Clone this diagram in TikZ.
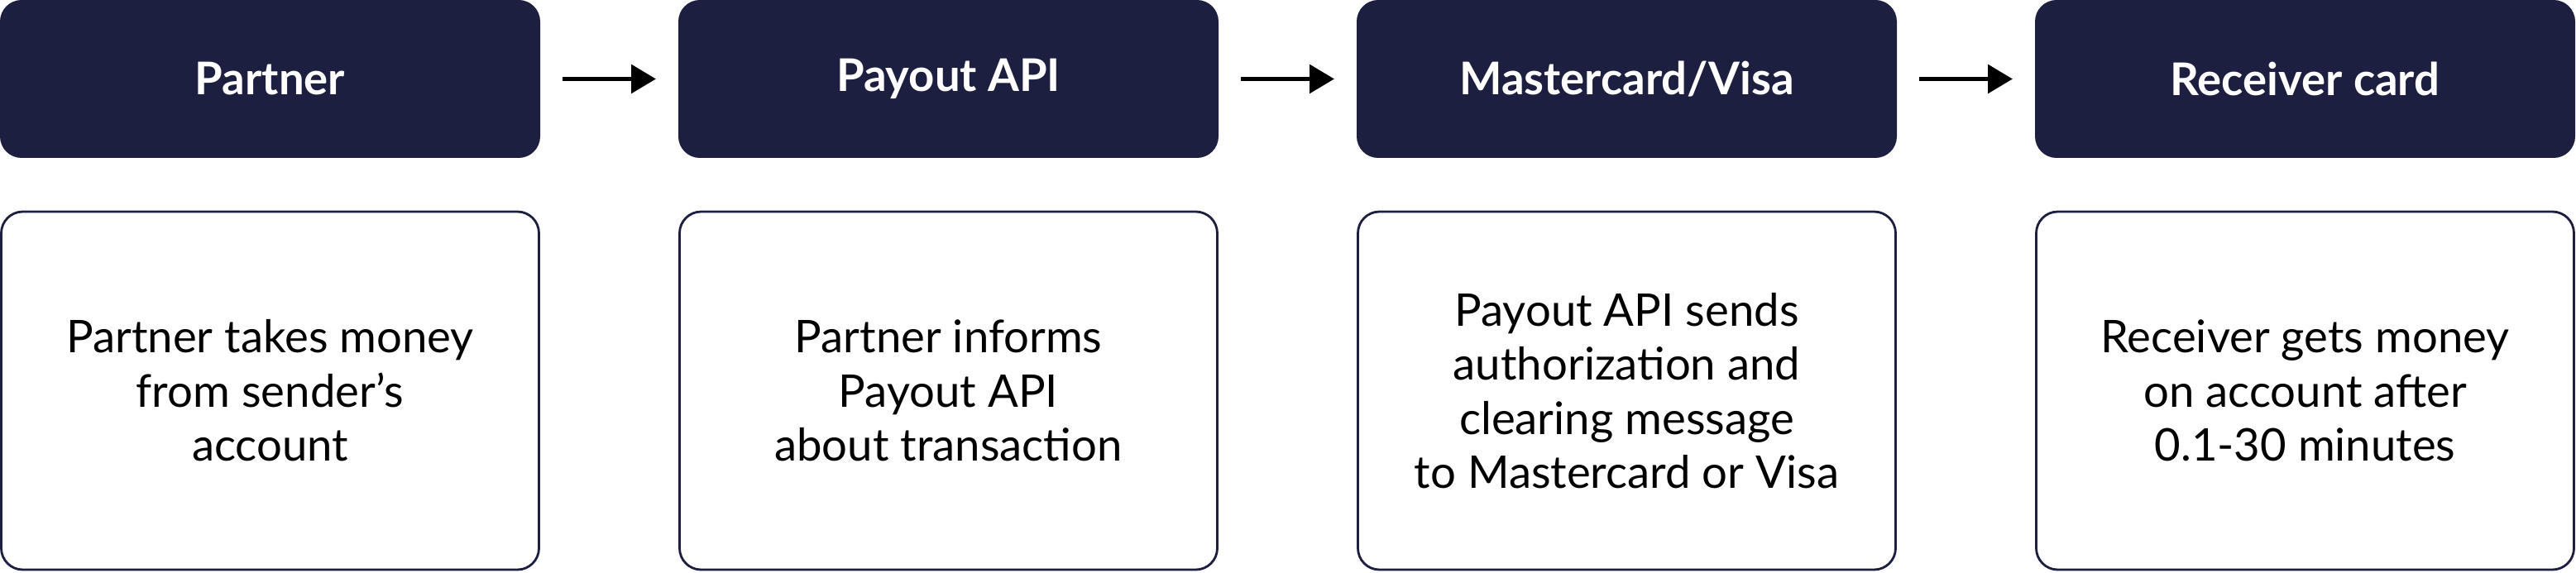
\documentclass[tikz,border=0pt]{standalone}
\usepackage{fontspec}
\setmainfont{Lato}
\usepackage{tikz}
\usetikzlibrary{positioning, arrows.meta}

\definecolor{navy}{RGB}{29,31,64}

\begin{document}
\begin{tikzpicture}[
    every node/.style={font=\fontsize{15.5}{18.6}\selectfont, outer sep=0pt},
    head/.style={fill=navy, rounded corners=0.26cm, text=white,
        minimum width=6.53cm, minimum height=1.91cm, font=\fontsize{15.5}{18.6}\selectfont\bfseries},
    info/.style={draw=navy, line width=0.8pt, rounded corners=0.26cm, fill=white,
        minimum width=6.5cm, minimum height=4.33cm, align=center},
    flow/.style={-{Triangle[length=0.3cm, width=0.34cm]}, line width=1.7pt,
        shorten <=0.27cm, shorten >=0.27cm},
    node distance=0.65cm and 1.67cm]
    \useasboundingbox (0,0) rectangle (31.14,6.93);

    % top row
    \node[head, anchor=north west] (partner) at (0,6.93) {Partner};
    \node[head, right=of partner] (api) {Payout API};
    \node[head, right=of api] (scheme) {Mastercard/Visa};
    \node[head, right=of scheme] (card) {Receiver card};

    % descriptions under each step
    \node[info, below=of partner] (partnerinfo) {Partner takes money\\from sender’s\\account};
    \node[info, below=of api] (apiinfo) {Partner informs\\Payout API\\about transaction};
    \node[info, below=of scheme] (schemeinfo) {Payout API sends\\authorization and\\clearing message\\to Mastercard or Visa};
    \node[info, below=of card] (cardinfo) {Receiver gets money\\on account after\\0.1-30 minutes};

    \draw[flow] (partner) -- (api);
    \draw[flow] (api) -- (scheme);
    \draw[flow] (scheme) -- (card);
\end{tikzpicture}
\end{document}
